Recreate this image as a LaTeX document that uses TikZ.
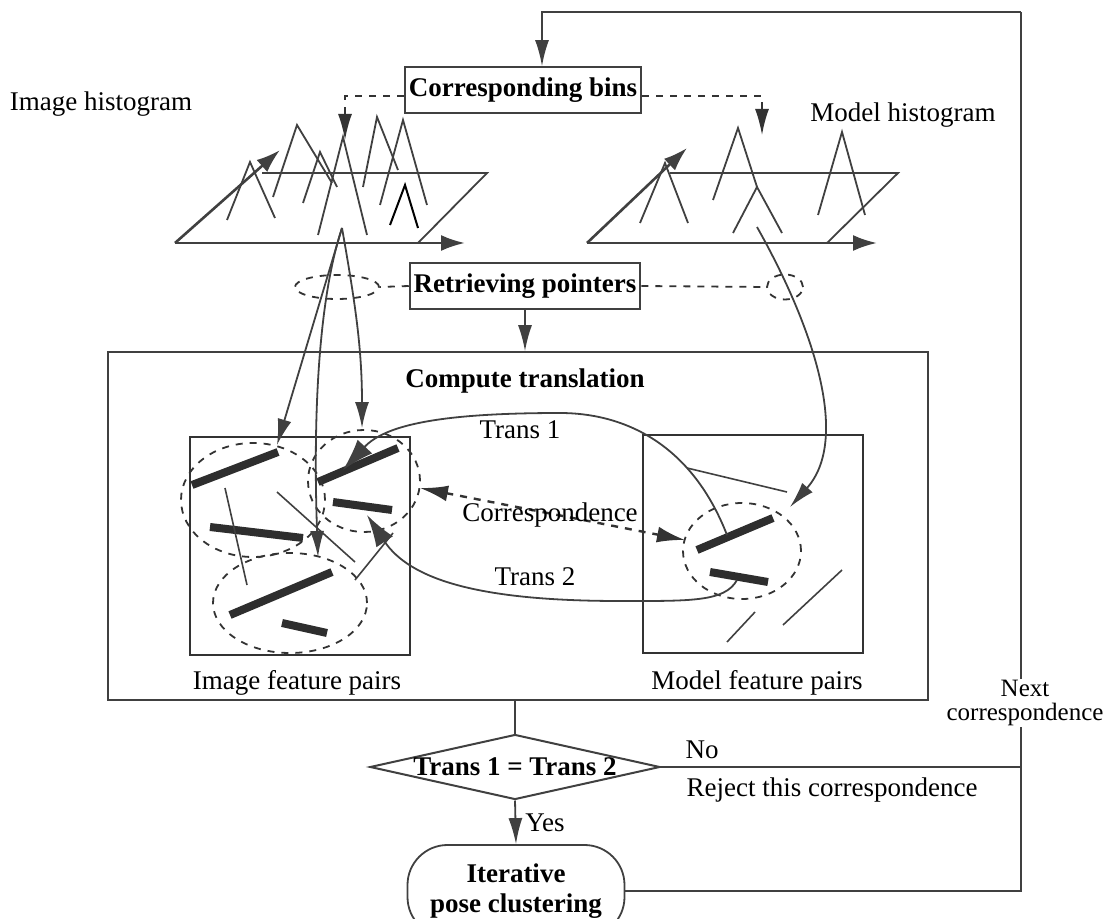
\documentclass[tikz,border=0pt]{standalone}
\usepackage{fontspec}
\setmainfont{Liberation Serif}
\usetikzlibrary{arrows.meta,shapes.geometric,calc}
\begin{document}
\begin{tikzpicture}[x=0.5pt,y=-0.5pt,
 every node/.style={font=\fontsize{13.5}{15}\selectfont, text=black},
 ln/.style={draw=black!75, line width=0.9pt},
 arr/.style={ln, -{Latex[length=13pt,width=7pt]}},
 axarr/.style={ln, line width=1.3pt, -{Latex[length=12pt,width=8pt]}},
 dsh/.style={draw=black!80, line width=0.9pt, dash pattern=on 3.5pt off 3.5pt},
 bx/.style={draw=black!75, line width=0.9pt, inner sep=2pt},
 fbox/.style={draw=black!80, line width=1.4pt, minimum width=110pt, minimum height=109pt},
 fbar/.style={draw=black!82, line width=4pt},
 thinln/.style={draw=black!75, line width=0.8pt},
 bold/.style={font=\fontsize{13.5}{15}\selectfont\bfseries}
]
\useasboundingbox (0,0) rectangle (1107,919);
\clip (0,0) rectangle (1107,919);

% ---------- main nodes ----------
\node[bx, bold, minimum width=116.5pt, minimum height=23pt] (bins) at (523,90) {Corresponding bins};
\node[bx, bold, minimum width=115pt, minimum height=23pt] (retr) at (525,286) {Retrieving pointers};
\node[draw=black!75, line width=0.8pt, minimum width=410pt, minimum height=174pt] (comp) at (518,526) {};
\node[bold] (comptxt) at (525,381) {Compute translation};
\node[fbox] (imgbox) at (300,546) {};
\node[fbox] (modbox) at (753,544) {};
\node[diamond, draw=black!75, line width=1pt, minimum width=145pt, minimum height=32.5pt, inner sep=0pt] (dec) at (515,767) {};
\node[bold] (dectxt) at (515,767) {Trans 1 = Trans 2};
\node[draw=black!75, line width=0.9pt, rounded corners=20pt, minimum width=108.5pt, minimum height=46pt, align=center, bold] (term) at (516,891) {Iterative\\pose clustering};
\node[ellipse, dsh, minimum width=42pt, minimum height=12pt, inner sep=0pt] (e1) at (337,287) {};
\node[ellipse, dsh, minimum width=18pt, minimum height=12.5pt, inner sep=0pt] (e2) at (785,287) {};

% ---------- labels ----------
\node (ih) at (101,104) {Image histogram};
\node (mh) at (903,115) {Model histogram};
\node (ifp) at (297,683) {Image feature pairs};
\node (mfp) at (757,683) {Model feature pairs};
\node (no) at (702,750) {No};
\node (rej) at (832,790) {Reject this correspondence};
\node (yes) at (545,823) {Yes};
\node (t1) at (520,430) {Trans 1};
\node (t2) at (535,577) {Trans 2};

% ---------- flow connectors ----------
\coordinate (fbc) at (1021,12);
\draw[ln] (term.east) -| (fbc);
\draw[arr] (fbc) -| ([xshift=9.5pt]bins.north);
\draw[ln] (dec.east) -- (dec.east -| fbc);
\draw[ln] (comp.south -| dec.north) -- (dec.north);
\draw[arr] (dec.south) -- (term.north);
\draw[arr] (retr.south) -- (retr.south |- comp.north);
\draw[dsh] (retr.west) -- (e1.east);
\draw[dsh] (retr.east) -- (e2.west);
\coordinate (ltgt) at (345,140);
\coordinate (rtgt) at (762,135);
\draw[dsh, -{Latex[length=13pt,width=7pt]}] ([yshift=-3pt]bins.west) -| (ltgt);
\draw[dsh, -{Latex[length=13pt,width=7pt]}] ([yshift=-3pt]bins.east) -| (rtgt);
\node[fill=white, inner sep=0.5pt, align=center, font=\fontsize{12.5}{12}\selectfont] (nxt) at (1025,703) {Next\\correspondence};

% ---------- image histogram ----------
\draw[axarr] (175,243) -- (465,243);
\draw[axarr] (175,243) -- (280,150);
\draw[ln] (262,173) -- (487,173) -- (418,243);
\draw[ln] (227,220) -- (250,162) -- (275,218);
\draw[ln] (273,197) -- (297,125) -- (332,183);
\draw[ln] (303,203) -- (320,152) -- (337,187);
\draw[ln] (318,235) -- (343,137) -- (367,235);
\draw[ln] (363,187) -- (377,117) -- (398,170);
\draw[ln] (380,205) -- (403,120) -- (427,205);
\draw[draw=black, line width=1pt] (390,225) -- (405,185) -- (418,228);

% ---------- model histogram ----------
\draw[axarr] (587,243) -- (877,243);
\draw[axarr] (587,243) -- (687,148);
\draw[ln] (670,173) -- (898,173) -- (827,243);
\draw[ln] (640,223) -- (665,163) -- (688,223);
\draw[ln] (713,200) -- (738,128) -- (757,187);
\draw[ln] (733,233) -- (757,187) -- (782,233);
\draw[ln] (818,215) -- (842,132) -- (865,215);

% ---------- image feature box contents ----------
\draw[fbar] (192,485) -- (278,452);
\draw[fbar] (318,482) -- (398,448);
\draw[fbar] (333,502) -- (392,510);
\draw[fbar] (210,527) -- (303,538);
\draw[fbar] (230,615) -- (332,572);
\draw[fbar] (282,623) -- (327,633);
\draw[thinln] (225,488) -- (247,585);
\draw[thinln] (277,492) -- (355,562);
\draw[thinln] (355,580) -- (393,533);
\draw[dsh] (253,500) ellipse [x radius=36pt, y radius=28.5pt];
\draw[dsh] (364,481) ellipse [x radius=28pt, y radius=25.5pt];
\draw[dsh] (290,603) ellipse [x radius=38.5pt, y radius=25pt];

% ---------- model feature box contents ----------
\draw[fbar] (697,550) -- (773,518);
\draw[fbar] (710,572) -- (768,582);
\draw[thinln] (687,468) -- (787,492);
\draw[thinln] (727,642) -- (755,612);
\draw[thinln] (783,625) -- (842,570);
\draw[dsh] (742,551) ellipse [x radius=29.5pt, y radius=24pt];

% ---------- pointer arrows ----------
\coordinate (ihp) at (342,228);
\coordinate (ia1) at (277,445);
\coordinate (ia2) at (362,428);
\coordinate (ia3) at (318,557);
\draw[arr] (ihp) -- (ia1);
\draw[arr] (ihp) to[out=-80,in=90] (ia2);
\draw[arr] (ihp) .. controls (318,300) and (313,420) .. (ia3);
\coordinate (mhp) at (757,227);
\coordinate (ma) at (790,507);
\draw[arr] (mhp) .. controls (815,330) and (850,440) .. (ma);

% ---------- translations ----------
\coordinate (t1s) at (727,535);
\coordinate (t1e) at (343,470);
\draw[ln, -{Latex[length=16pt,width=10pt]}] (t1s) .. controls (690,440) and (620,413) .. (560,413) .. controls (440,413) and (385,425) .. (t1e);
\coordinate (t2s) at (737,580);
\coordinate (t2e) at (367,515);
\draw[ln, -{Latex[length=16pt,width=10pt]}] (t2s) .. controls (725,602) and (690,601) .. (620,601) .. controls (480,601) and (410,580) .. (t2e);
\coordinate (c1) at (420,488);
\coordinate (c2) at (685,540);
\draw[dsh, line width=1.2pt, {Latex[length=14pt,width=8pt]}-{Latex[length=14pt,width=8pt]}] (c1) -- (c2);
\node (corr) at (550,515) {Correspondence};
\end{tikzpicture}
\end{document}
